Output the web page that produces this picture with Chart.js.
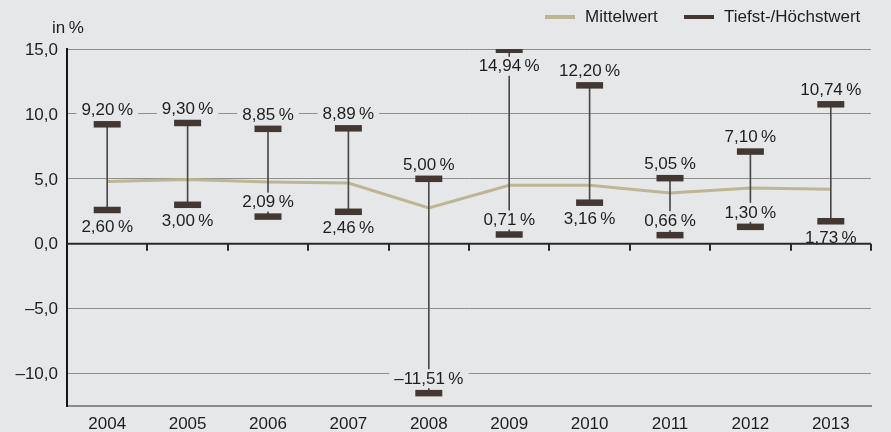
<!DOCTYPE html>
<html lang="de">
<head>
<meta charset="utf-8">
<title>Renditespanne 2004–2013</title>
<script src="https://cdn.jsdelivr.net/npm/chart.js@4.4.1/dist/chart.umd.min.js"></script>
<style>
  html, body { margin: 0; padding: 0; background: #e6e7e9; }
  #wrap { width: 891px; height: 432px; position: relative; }
</style>
</head>
<body>
<div id="wrap"><canvas id="chart"></canvas></div>
<script>
// Jahre, Mittelwerte sowie Tiefst- und Höchstwerte (in %)
const years   = ['2004','2005','2006','2007','2008','2009','2010','2011','2012','2013'];
const meanVal = [4.80, 4.95, 4.75, 4.67, 2.75, 4.50, 4.50, 3.90, 4.30, 4.20];
const lowVal  = [2.60, 3.00, 2.09, 2.46, -11.51, 0.71, 3.16, 0.66, 1.30, 1.73];
const highVal = [9.20, 9.30, 8.85, 8.89, 5.00, 14.94, 12.20, 5.05, 7.10, 10.74];
const yTicks  = [15, 10, 5, 0, -5, -10];

// Lage der Wertbeschriftungen relativ zur Markierung
const highSide = ['up','up','up','up','up','down','up','up','up','up'];
const lowSide  = ['down','down','up','down','up','up','down','up','up','down'];

const BG = '#e6e7e9';
const GRID = '#8e8e8e';
const MEAN_COLOR = '#bdb593';
const CAP_COLOR = '#433731';
const TEXT = '#1e1e1e';
const FONT = '17px "Liberation Sans", Arial, Helvetica, sans-serif';

function fmt(v, digits) {
  return v.toFixed(digits).replace('.', ',').replace('-', '\u2013');
}

const valueLabels = {
  id: 'valueLabels',
  afterDatasetsDraw(chart) {
    const { ctx, scales: { x, y } } = chart;
    ctx.save();
    ctx.font = FONT;
    ctx.textAlign = 'center';
    ctx.textBaseline = 'middle';
    const put = (i, v, side) => {
      const txt = fmt(v, 2) + '\u2009%';
      const px = x.getPixelForValue(i);
      const py = y.getPixelForValue(v) + (side === 'up' ? -15 : 16);
      const w = ctx.measureText(txt).width;
      ctx.fillStyle = BG;
      ctx.fillRect(px - w / 2 - 5, py - 9, w + 10, 19);
      ctx.fillStyle = TEXT;
      ctx.fillText(txt, px, py + 1);
    };
    years.forEach((_, i) => {
      put(i, highVal[i], highSide[i]);
      put(i, lowVal[i], lowSide[i]);
    });
    ctx.restore();
  }
};

// Nulllinie mit Teilstrichen an den Kategoriegrenzen
const zeroLine = {
  id: 'zeroLine',
  afterDatasetsDraw(chart) {
    const { ctx, chartArea, scales: { x, y } } = chart;
    const y0 = y.getPixelForValue(0);
    const half = (x.getPixelForValue(1) - x.getPixelForValue(0)) / 2;
    ctx.save();
    ctx.strokeStyle = '#2a2a2a';
    ctx.lineWidth = 2;
    ctx.beginPath();
    ctx.moveTo(chartArea.left, y0);
    ctx.lineTo(chartArea.right, y0);
    for (let i = 0; i < years.length; i++) {
      const px = Math.round(x.getPixelForValue(i) + half);
      ctx.moveTo(px, y0);
      ctx.lineTo(px, y0 + 7);
    }
    ctx.stroke();
    ctx.restore();
  }
};

const headerText = {
  id: 'headerText',
  afterDraw(chart) {
    const { ctx } = chart;
    ctx.save();
    ctx.font = FONT;
    ctx.fillStyle = TEXT;
    ctx.textBaseline = 'middle';
    ctx.textAlign = 'left';
    ctx.fillText('in\u2009%', 52, 28);
    // Legende
    ctx.fillStyle = MEAN_COLOR;
    ctx.fillRect(545, 15, 30, 4);
    ctx.fillStyle = TEXT;
    ctx.fillText('Mittelwert', 585, 17);
    ctx.fillStyle = CAP_COLOR;
    ctx.fillRect(684, 15, 30, 4);
    ctx.fillStyle = TEXT;
    ctx.fillText('Tiefst-/Höchstwert', 724, 17);
    ctx.restore();
  }
};

new Chart(document.getElementById('chart'), {
  data: {
    labels: years,
    datasets: [
      {
        type: 'line',
        label: 'Mittelwert',
        data: meanVal,
        borderColor: MEAN_COLOR,
        borderWidth: 3,
        pointRadius: 0,
        tension: 0,
        order: 3
      },
      {
        type: 'bar',
        label: 'Spanne',
        data: years.map((_, i) => [lowVal[i], highVal[i]]),
        backgroundColor: '#4a4a4a',
        borderWidth: 0,
        barThickness: 1,
        order: 2
      },
      {
        type: 'line',
        label: 'Höchstwert',
        data: highVal,
        showLine: false,
        pointStyle: 'line',
        pointRadius: 13.5,
        pointBorderWidth: 6.5,
        pointBorderColor: CAP_COLOR,
        borderColor: CAP_COLOR,
        order: 1
      },
      {
        type: 'line',
        label: 'Tiefstwert',
        data: lowVal,
        showLine: false,
        pointStyle: 'line',
        pointRadius: 13.5,
        pointBorderWidth: 6.5,
        pointBorderColor: CAP_COLOR,
        borderColor: CAP_COLOR,
        order: 1
      }
    ]
  },
  options: {
    responsive: true,
    maintainAspectRatio: false,
    animation: false,
    layout: { padding: { top: 49, left: 0, right: 11, bottom: 0 } },
    plugins: {
      legend: { display: false },
      tooltip: { enabled: false }
    },
    scales: {
      x: {
        offset: true,
        grid: { display: false, drawTicks: false },
        border: { display: true, color: '#8a8a8a', width: 2 },
        ticks: { color: TEXT, font: { family: '"Liberation Sans", Arial, sans-serif', size: 17 }, padding: 8, maxRotation: 0 },
        afterFit(s) { s.height = 26; }
      },
      y: {
        min: -12.5,
        max: 15,
        grid: {
          drawTicks: false,
          color: GRID,
          lineWidth: 1
        },
        border: { display: true, color: '#161616', width: 2 },
        ticks: {
          stepSize: 5,
          includeBounds: false,
          color: TEXT,
          padding: 9,
          labelOffset: 1,
          font: { family: '"Liberation Sans", Arial, sans-serif', size: 17 },
          callback: v => (yTicks.includes(v) ? fmt(v, 1) : '')
        },
        afterFit(s) { s.width = 67; }
      }
    }
  },
  plugins: [valueLabels, zeroLine, headerText]
});
</script>
</body>
</html>
